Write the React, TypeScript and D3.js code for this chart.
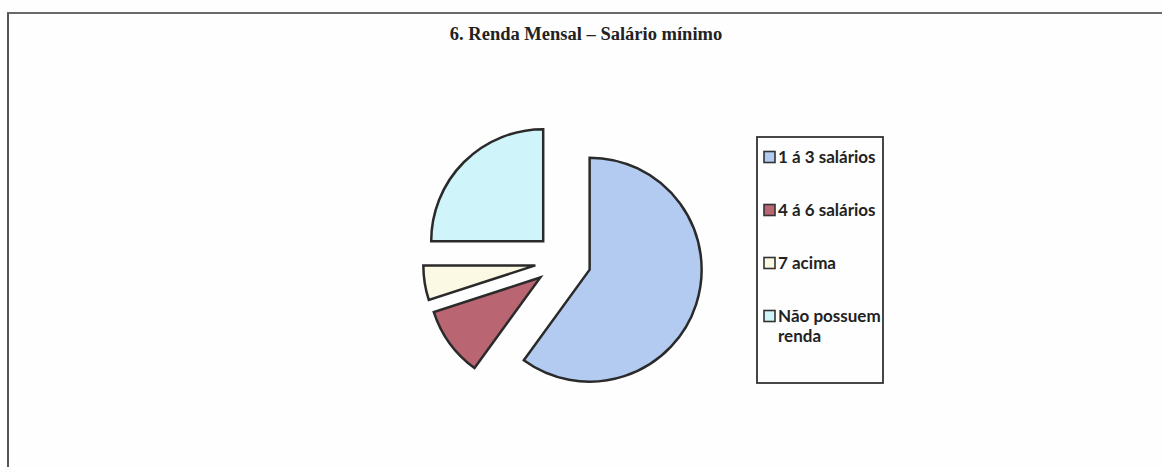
import React from "react";
import * as d3 from "d3";

const categories = ["1 á 3 salários", "4 á 6 salários", "7 acima", "Não possuem renda"];
const values = [60, 10, 5, 25];
const colors = ["#b3cbf1", "#b96572", "#fbf8e3", "#cff4f9"];
const legendLines = [["1 á 3 salários"], ["4 á 6 salários"], ["7 acima"], ["Não possuem", "renda"]];
const title = "6. Renda Mensal – Salário mínimo";

export default function App() {
  const W = 1162, H = 467;
  const cx = 563, cy = 261, r = 112, explode = 28;
  const pie = d3.pie<number>().sort(null).startAngle(0).endAngle(2 * Math.PI)(values);
  const arc = d3.arc<d3.PieArcDatum<number>>().innerRadius(0).outerRadius(r);
  const legendY = d3.scalePoint<number>().domain([0, 1, 2, 3]).range([157, 316]);
  return (
    <svg width={W} height={H} style={{ position: "absolute", left: 0, top: 0, background: "#fff" }}>
      <rect x={0} y={0} width={W} height={H} fill="#fefefe" />
      <line x1={7} y1={13} x2={W} y2={13} stroke="#6a6a6a" strokeWidth={2} />
      <line x1={8} y1={13} x2={8} y2={H} stroke="#555" strokeWidth={2} />
      <text x={586} y={40} textAnchor="middle" fontFamily="Liberation Serif" fontWeight="bold" fontSize={18.5} fill="#222">
        {title}
      </text>
      <g>
        {pie.map((d, i) => {
          const mid = (d.startAngle + d.endAngle) / 2;
          const dx = Math.sin(mid) * explode;
          const dy = -Math.cos(mid) * explode;
          return (
            <path
              key={i}
              d={arc(d) || ""}
              transform={`translate(${cx + dx},${cy + dy})`}
              fill={colors[i]}
              stroke="#2a2a2a"
              strokeWidth={2.5}
              strokeLinejoin="miter"
            />
          );
        })}
      </g>
      <rect x={757} y={137} width={126} height={246} fill="none" stroke="#333" strokeWidth={1.8} />
      {categories.map((c, i) => {
        const y = legendY(i) as number;
        return (
          <g key={c}>
            <rect x={764} y={y - 5.5} width={11} height={11} fill={colors[i]} stroke="#333" strokeWidth={1.6} />
            {legendLines[i].map((ln, j) => (
              <text key={j} x={778} y={y + 6 + j * 20} fontFamily="Lato" fontWeight="bold" fontSize={17} fill="#222">
                {ln}
              </text>
            ))}
          </g>
        );
      })}
    </svg>
  );
}
